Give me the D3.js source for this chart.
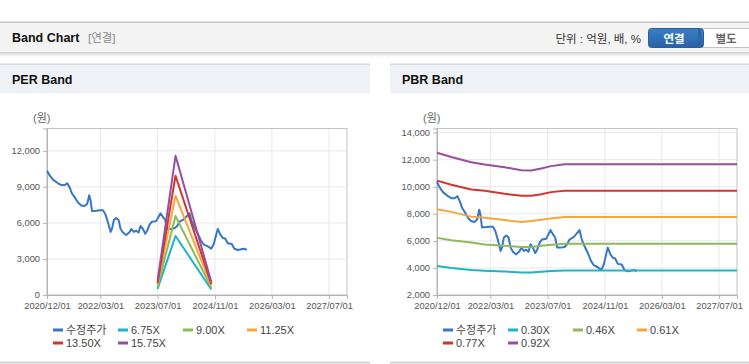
<!DOCTYPE html>
<html>
<head>
<meta charset="utf-8">
<script src="https://cdn.jsdelivr.net/npm/d3@7"></script>
<style>
  body { margin: 0; background: #fff; }
  text { font-family: "Liberation Sans", Arial, "Noto Sans CJK KR", sans-serif; }
</style>
</head>
<body>
<div id="chart"></div>
<script>
// ---- data ----
const priceDates = ["2020-12-01","2020-12-24","2021-01-21","2021-03-05","2021-04-02","2021-04-30","2021-05-23","2021-06-12",
  "2021-07-02","2021-07-24","2021-08-22","2021-09-19","2021-10-18","2021-11-09","2021-11-26","2021-12-08","2021-12-19",
  "2022-01-11","2022-02-22","2022-03-23","2022-04-11","2022-04-28","2022-05-13","2022-05-27","2022-06-07","2022-06-24",
  "2022-07-14","2022-08-03","2022-08-20","2022-09-09","2022-10-07","2022-11-05","2022-11-19","2022-12-11","2022-12-31",
  "2023-01-20","2023-02-06","2023-02-26","2023-03-18","2023-04-04","2023-04-24","2023-05-14","2023-06-19","2023-07-09",
  "2023-07-26","2023-08-15","2023-09-04","2023-09-21","2023-10-19","2023-11-23","2023-12-15","2024-01-04","2024-02-10",
  "2024-03-01","2024-03-29","2024-04-18","2024-05-11","2024-06-08","2024-07-06","2024-07-29","2024-09-01","2024-09-30",
  "2024-10-22","2024-11-11","2024-11-25","2024-12-18","2025-01-07","2025-01-27","2025-02-18","2025-03-24","2025-04-16",
  "2025-05-15","2025-06-12","2025-07-10","2025-07-30"];
const priceValues = [10350,9950,9600,9300,9150,9150,9300,8950,
  8450,8150,7700,7450,7400,7600,8300,7850,7000,
  7000,7050,7050,6750,6250,5750,5250,5500,6250,
  6400,6250,5500,5200,5000,5250,5500,5250,5350,
  5200,5750,5500,5100,5350,5850,6100,6150,6500,
  6800,6500,6250,5500,5500,5550,5750,6100,6300,
  6500,6800,6100,5600,5100,4500,4200,4050,3850,
  4250,5000,5500,5000,4750,4700,4300,4250,3850,
  3750,3800,3850,3750];

const perBandDates = ["2023-07-01","2023-12-01","2024-10-01"];
const perNames = ["6.75X","9.00X","11.25X","13.50X","15.75X"];
const perBand675 = [506,4910,459];
const perBand900 = [690,6570,612];
const perBand1125 = [840,8260,770];
const perBand1350 = [990,9930,918];
const perBand1575 = [1190,11590,1090];

const pbrBandDates = ["2020-12-01","2021-04-02","2021-09-19","2022-01-11","2022-06-30","2022-11-19","2023-02-12",
  "2023-05-08","2023-07-31","2023-11-23","2027-12-01"];
const pbrNames = ["0.30X","0.46X","0.61X","0.77X","0.92X"];
const pbrBand030 = [4140,3990,3840,3790,3740,3660,3660,3720,3770,3810,3810];
const pbrBand046 = [6220,6050,5880,5730,5630,5550,5550,5640,5720,5780,5780];
const pbrBand061 = [8340,8140,7790,7710,7540,7390,7470,7560,7660,7760,7760];
const pbrBand077 = [10450,10150,9800,9700,9480,9330,9330,9450,9600,9700,9700];
const pbrBand092 = [12510,12190,11810,11640,11440,11220,11190,11350,11520,11660,11660];

const xTickLabels = ["2020/12/01","2022/03/01","2023/07/01","2024/11/01","2026/03/01","2027/07/01"];
const perYTicks = [0,3000,6000,9000,12000];
const pbrYTicks = [2000,4000,6000,8000,10000,12000,14000];

const colors = ["#3677c7","#1fb3c5","#8db957","#f5a73b","#d2352d","#984ea0"];

// ---- page ----
const W = 749, H = 364;
const parse = d3.utcParse("%Y-%m-%d");
const parseTick = d3.utcParse("%Y/%m/%d");

const svg = d3.select("#chart").append("svg").attr("width", W).attr("height", H);

const defs = svg.append("defs");
const sh = defs.append("linearGradient").attr("id", "shadow").attr("x1", 0).attr("x2", 0).attr("y1", 0).attr("y2", 1);
sh.append("stop").attr("offset", 0).attr("stop-color", "#cfcfcf");
sh.append("stop").attr("offset", 1).attr("stop-color", "#ffffff");
const bl = defs.append("linearGradient").attr("id", "btn").attr("x1", 0).attr("x2", 0).attr("y1", 0).attr("y2", 1);
bl.append("stop").attr("offset", 0).attr("stop-color", "#3b7fc4");
bl.append("stop").attr("offset", 1).attr("stop-color", "#2763a6");

// top bar
svg.append("rect").attr("x", 0).attr("y", 22).attr("width", W).attr("height", 30).attr("fill", "#f4f4f4");
svg.append("rect").attr("x", 0).attr("y", 21.5).attr("width", W).attr("height", 1.2).attr("fill", "#b9b9b9");
svg.append("rect").attr("x", 0).attr("y", 52).attr("width", W).attr("height", 5).attr("fill", "url(#shadow)");
svg.append("text").attr("x", 12).attr("y", 42).attr("font-size", 12.5).attr("font-weight", "bold")
  .attr("fill", "#111").text("Band Chart");
svg.append("text").attr("x", 88).attr("y", 42).attr("font-size", 11.5).attr("fill", "#8a8a8a").text("[연결]");
svg.append("text").attr("x", 641).attr("y", 42.5).attr("font-size", 11.5).attr("text-anchor", "end")
  .attr("fill", "#333").text("단위 : 억원, 배, %");
svg.append("rect").attr("x", 700).attr("y", 28.5).attr("width", 52).attr("height", 19).attr("rx", 3)
  .attr("fill", "#fff").attr("stroke", "#c2c2c2");
svg.append("rect").attr("x", 648.5).attr("y", 28.5).attr("width", 55).attr("height", 19).attr("rx", 3)
  .attr("fill", "url(#btn)").attr("stroke", "#2a5f9c");
svg.append("rect").attr("x", 698).attr("y", 29).attr("width", 3).attr("height", 18).attr("fill", "#2a64a5");
svg.append("text").attr("x", 674).attr("y", 42.5).attr("font-size", 11.5).attr("font-weight", "bold")
  .attr("text-anchor", "middle").attr("fill", "#fff").text("연결");
svg.append("text").attr("x", 726).attr("y", 42.5).attr("font-size", 11.5).attr("font-weight", "bold")
  .attr("text-anchor", "middle").attr("fill", "#666").text("별도");

function drawPanel(x0, pw, title, yDomain, yTicks, bandDates, bands, names) {
  const g = svg.append("g").attr("transform", `translate(${x0},0)`);
  g.append("rect").attr("x", 0).attr("y", 64).attr("width", pw).attr("height", 29).attr("fill", "#eef2f7");
  g.append("rect").attr("x", 0).attr("y", 63.5).attr("width", pw).attr("height", 1.2).attr("fill", "#cfd3d8");
  g.append("rect").attr("x", 0).attr("y", 361.5).attr("width", pw).attr("height", 2).attr("fill", "#d4d4d4");
  g.append("text").attr("x", 12).attr("y", 84).attr("font-size", 12.5).attr("font-weight", "bold")
    .attr("fill", "#111").text(title);

  const left = 47, right = 347, top = 128.5, bottom = 295;
  const x = d3.scaleUtc().domain([parse("2020-12-01"), parse("2027-12-01")]).range([left, right]);
  const y = d3.scaleLinear().domain(yDomain).range([bottom, top]);
  const xTicks = xTickLabels.map(parseTick);

  // grid
  g.append("g").selectAll("line").data(yTicks).join("line")
    .attr("x1", left).attr("x2", right).attr("y1", d => y(d)).attr("y2", d => y(d))
    .attr("stroke", "#e8e8e8");
  g.append("g").selectAll("line").data(xTicks).join("line")
    .attr("x1", d => x(d)).attr("x2", d => x(d)).attr("y1", top).attr("y2", bottom)
    .attr("stroke", "#e8e8e8");
  g.append("rect").attr("x", left).attr("y", top).attr("width", right - left).attr("height", bottom - top)
    .attr("fill", "none").attr("stroke", "#c2c2c2");

  const yAxis = g.append("g").attr("transform", `translate(${left},0)`)
    .call(d3.axisLeft(y).tickValues(yTicks).tickSize(4).tickPadding(3).tickFormat(d3.format(",")));
  const xAxis = g.append("g").attr("transform", `translate(0,${bottom})`)
    .call(d3.axisBottom(x).tickValues(xTicks).tickSize(4).tickPadding(3).tickFormat(d3.utcFormat("%Y/%m/%d")));
  [yAxis, xAxis].forEach(a => {
    a.select(".domain").attr("stroke", "#b5b5b5");
    a.selectAll(".tick line").attr("stroke", "#b5b5b5");
    a.selectAll(".tick text").attr("fill", "#555").attr("font-size", 9.3)
      .attr("font-family", "'Liberation Sans', Arial, sans-serif");
  });
  g.append("text").attr("x", left - 14).attr("y", 122).attr("font-size", 11).attr("fill", "#666").text("(원)");

  const line = d3.line().x(d => x(d[0])).y(d => y(d[1]));
  const plot = g.append("g");
  plot.append("path")
    .datum(priceDates.map((d, i) => [parse(d), priceValues[i]]))
    .attr("d", line).attr("fill", "none").attr("stroke", colors[0]).attr("stroke-width", 2)
    .attr("stroke-linejoin", "round");
  bands.forEach((vals, k) => {
    plot.append("path")
      .datum(bandDates.map((d, i) => [parse(d), vals[i]]))
      .attr("d", line).attr("fill", "none").attr("stroke", colors[k + 1]).attr("stroke-width", 2)
      .attr("stroke-linejoin", "round");
  });

  // legend
  const labels = ["수정주가"].concat(names);
  const cols = [53, 118, 183, 247];
  const lg = g.append("g");
  labels.forEach((t, i) => {
    const lx = cols[i % 4], ly = i < 4 ? 330 : 343;
    lg.append("line").attr("x1", lx).attr("x2", lx + 10).attr("y1", ly).attr("y2", ly)
      .attr("stroke", colors[i]).attr("stroke-width", 3);
    lg.append("text").attr("x", lx + 13).attr("y", ly + 4).attr("font-size", 11).attr("fill", "#444").text(t);
  });
}

drawPanel(0, 370, "PER Band", [0, 13860], perYTicks, perBandDates,
  [perBand675, perBand900, perBand1125, perBand1350, perBand1575], perNames);
drawPanel(390, 359, "PBR Band", [2000, 14300], pbrYTicks, pbrBandDates,
  [pbrBand030, pbrBand046, pbrBand061, pbrBand077, pbrBand092], pbrNames);
</script>
</body>
</html>
